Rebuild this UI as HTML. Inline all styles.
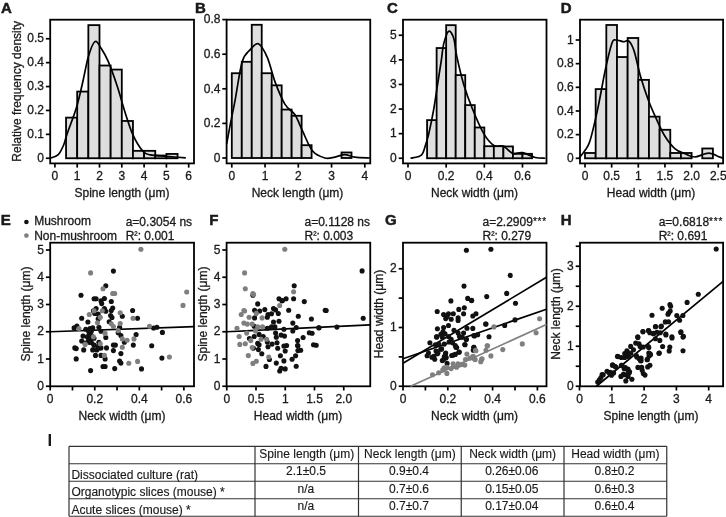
<!DOCTYPE html>
<html><head><meta charset="utf-8"><style>
html,body{margin:0;padding:0;background:#fff;}
svg{display:block;font-family:"Liberation Sans",sans-serif;will-change:transform;}
text{stroke:#1a1a1a;stroke-width:0.3px;}
text.tb{stroke-width:0.15px;}
text.nb{stroke-width:0px !important;}
</style></head><body>
<svg width="726" height="517" viewBox="0 0 726 517">
<rect width="726" height="517" fill="#fff"/>
<rect x="66.05" y="117.62" width="11.15" height="40.63" fill="#dedede" stroke="#000" stroke-width="1.8"/>
<rect x="77.2" y="91.57" width="11.15" height="66.68" fill="#dedede" stroke="#000" stroke-width="1.8"/>
<rect x="88.35" y="25.13" width="11.15" height="133.12" fill="#dedede" stroke="#000" stroke-width="1.8"/>
<rect x="99.5" y="65.52" width="11.15" height="92.73" fill="#dedede" stroke="#000" stroke-width="1.8"/>
<rect x="110.65" y="69.58" width="11.15" height="88.67" fill="#dedede" stroke="#000" stroke-width="1.8"/>
<rect x="121.8" y="120.97" width="11.15" height="37.28" fill="#dedede" stroke="#000" stroke-width="1.8"/>
<rect x="132.95" y="150.84" width="11.15" height="7.41" fill="#dedede" stroke="#000" stroke-width="1.8"/>
<rect x="144.1" y="150.84" width="11.15" height="7.41" fill="#dedede" stroke="#000" stroke-width="1.8"/>
<rect x="155.25" y="155.5" width="11.15" height="2.75" fill="#dedede" stroke="#000" stroke-width="1.8"/>
<rect x="166.4" y="153.95" width="11.15" height="4.3" fill="#dedede" stroke="#000" stroke-width="1.8"/>
<path d="M49.99,158.25 C51.37,157.65 55.98,156.86 58.24,154.66 C60.51,152.47 62.15,148.49 63.6,145.1 C65.05,141.72 64.82,140.52 66.94,134.35 C69.06,128.18 73.71,116.62 76.31,108.06 C78.91,99.5 80.54,91.53 82.55,82.97 C84.56,74.4 86.29,63.57 88.35,56.67 C90.41,49.78 92.76,43.01 94.88,41.62 C97.01,40.22 98.89,45 101.11,48.31 C103.32,51.62 105.49,55.08 108.2,61.45 C110.9,67.83 114.63,78.38 117.34,86.55 C120.05,94.72 121.91,102.48 124.48,110.45 C127.04,118.42 129.68,127.58 132.73,134.35 C135.77,141.12 139.83,147.65 142.76,151.08 C145.7,154.51 146.4,154.03 150.34,154.9 C154.28,155.78 160.49,155.84 166.4,156.34 C172.31,156.84 182.57,157.63 185.8,157.89" fill="none" stroke="#000" stroke-width="1.7"/>
<rect x="50.2" y="19.7" width="143.8" height="143.7" fill="none" stroke="#000" stroke-width="1.8"/>
<line x1="45.9" y1="158.25" x2="50.2" y2="158.25" stroke="#000" stroke-width="1.7"/>
<text x="44" y="161.95" font-size="12" text-anchor="end" fill="#1a1a1a">0</text>
<line x1="45.9" y1="134.35" x2="50.2" y2="134.35" stroke="#000" stroke-width="1.7"/>
<text x="44" y="138.05" font-size="12" text-anchor="end" fill="#1a1a1a">0.1</text>
<line x1="45.9" y1="110.45" x2="50.2" y2="110.45" stroke="#000" stroke-width="1.7"/>
<text x="44" y="114.15" font-size="12" text-anchor="end" fill="#1a1a1a">0.2</text>
<line x1="45.9" y1="86.55" x2="50.2" y2="86.55" stroke="#000" stroke-width="1.7"/>
<text x="44" y="90.25" font-size="12" text-anchor="end" fill="#1a1a1a">0.3</text>
<line x1="45.9" y1="62.65" x2="50.2" y2="62.65" stroke="#000" stroke-width="1.7"/>
<text x="44" y="66.35" font-size="12" text-anchor="end" fill="#1a1a1a">0.4</text>
<line x1="45.9" y1="38.75" x2="50.2" y2="38.75" stroke="#000" stroke-width="1.7"/>
<text x="44" y="42.45" font-size="12" text-anchor="end" fill="#1a1a1a">0.5</text>
<line x1="54.9" y1="163.4" x2="54.9" y2="167.6" stroke="#000" stroke-width="1.7"/>
<text x="54.9" y="179.6" font-size="12" text-anchor="middle" fill="#1a1a1a">0</text>
<line x1="77.2" y1="163.4" x2="77.2" y2="167.6" stroke="#000" stroke-width="1.7"/>
<text x="77.2" y="179.6" font-size="12" text-anchor="middle" fill="#1a1a1a">1</text>
<line x1="99.5" y1="163.4" x2="99.5" y2="167.6" stroke="#000" stroke-width="1.7"/>
<text x="99.5" y="179.6" font-size="12" text-anchor="middle" fill="#1a1a1a">2</text>
<line x1="121.8" y1="163.4" x2="121.8" y2="167.6" stroke="#000" stroke-width="1.7"/>
<text x="121.8" y="179.6" font-size="12" text-anchor="middle" fill="#1a1a1a">3</text>
<line x1="144.1" y1="163.4" x2="144.1" y2="167.6" stroke="#000" stroke-width="1.7"/>
<text x="144.1" y="179.6" font-size="12" text-anchor="middle" fill="#1a1a1a">4</text>
<line x1="166.4" y1="163.4" x2="166.4" y2="167.6" stroke="#000" stroke-width="1.7"/>
<text x="166.4" y="179.6" font-size="12" text-anchor="middle" fill="#1a1a1a">5</text>
<line x1="188.7" y1="163.4" x2="188.7" y2="167.6" stroke="#000" stroke-width="1.7"/>
<text x="188.7" y="179.6" font-size="12" text-anchor="middle" fill="#1a1a1a">6</text>
<text x="122" y="196.7" font-size="12" text-anchor="middle" fill="#1a1a1a">Spine length (μm)</text>
<text x="1" y="13.2" font-size="15" text-anchor="start" font-weight="bold" style="stroke-width:0.5px" fill="#1a1a1a">A</text>
<text x="21" y="91.3" font-size="12" text-anchor="middle" fill="#1a1a1a" transform="rotate(-90 21 91.3)">Relative frequency density</text>
<rect x="231.8" y="73.23" width="9.97" height="84.77" fill="#dedede" stroke="#000" stroke-width="1.8"/>
<rect x="241.78" y="61.81" width="9.97" height="96.19" fill="#dedede" stroke="#000" stroke-width="1.8"/>
<rect x="251.75" y="24.79" width="9.98" height="133.21" fill="#dedede" stroke="#000" stroke-width="1.8"/>
<rect x="261.73" y="73.23" width="9.97" height="84.77" fill="#dedede" stroke="#000" stroke-width="1.8"/>
<rect x="271.7" y="85.34" width="9.98" height="72.66" fill="#dedede" stroke="#000" stroke-width="1.8"/>
<rect x="281.68" y="109.56" width="9.97" height="48.44" fill="#dedede" stroke="#000" stroke-width="1.8"/>
<rect x="291.65" y="115.79" width="9.98" height="42.21" fill="#dedede" stroke="#000" stroke-width="1.8"/>
<rect x="301.62" y="145.2" width="9.98" height="12.8" fill="#dedede" stroke="#000" stroke-width="1.8"/>
<rect x="341.52" y="152.46" width="9.98" height="5.54" fill="#dedede" stroke="#000" stroke-width="1.8"/>
<path d="M226.61,144.16 C227.2,140.99 228.72,132.48 230.14,125.13 C231.56,117.78 233.13,110.57 235.12,100.04 C237.12,89.52 239.61,70.35 242.11,61.98 C244.6,53.62 247.37,52.9 250.09,49.88 C252.8,46.85 255.52,42.52 258.4,43.82 C261.28,45.12 264.61,51.32 267.38,57.66 C270.15,64 272.09,74.09 275.03,81.88 C277.96,89.66 281.68,98.89 285,104.37 C288.32,109.85 292.04,110.28 294.98,114.75 C297.91,119.22 299.69,125.13 302.62,131.19 C305.56,137.24 308.88,146.61 312.6,151.08 C316.31,155.55 321.19,156.99 324.9,158 C328.61,159.01 331.55,157.71 334.88,157.13 C338.2,156.56 341.53,154.54 344.85,154.54 C348.18,154.54 350.67,156.56 354.83,157.13 C358.98,157.71 367.29,157.86 369.79,158" fill="none" stroke="#000" stroke-width="1.7"/>
<rect x="226.6" y="19.7" width="143.65" height="143.7" fill="none" stroke="#000" stroke-width="1.8"/>
<line x1="222.3" y1="158" x2="226.6" y2="158" stroke="#000" stroke-width="1.7"/>
<text x="220.4" y="161.7" font-size="12" text-anchor="end" fill="#1a1a1a">0</text>
<line x1="222.3" y1="123.4" x2="226.6" y2="123.4" stroke="#000" stroke-width="1.7"/>
<text x="220.4" y="127.1" font-size="12" text-anchor="end" fill="#1a1a1a">0.2</text>
<line x1="222.3" y1="88.8" x2="226.6" y2="88.8" stroke="#000" stroke-width="1.7"/>
<text x="220.4" y="92.5" font-size="12" text-anchor="end" fill="#1a1a1a">0.4</text>
<line x1="222.3" y1="54.2" x2="226.6" y2="54.2" stroke="#000" stroke-width="1.7"/>
<text x="220.4" y="57.9" font-size="12" text-anchor="end" fill="#1a1a1a">0.6</text>
<line x1="222.3" y1="19.6" x2="226.6" y2="19.6" stroke="#000" stroke-width="1.7"/>
<text x="220.4" y="23.3" font-size="12" text-anchor="end" fill="#1a1a1a">0.8</text>
<line x1="231.8" y1="163.4" x2="231.8" y2="167.6" stroke="#000" stroke-width="1.7"/>
<text x="231.8" y="179.6" font-size="12" text-anchor="middle" fill="#1a1a1a">0</text>
<line x1="265.05" y1="163.4" x2="265.05" y2="167.6" stroke="#000" stroke-width="1.7"/>
<text x="265.05" y="179.6" font-size="12" text-anchor="middle" fill="#1a1a1a">1</text>
<line x1="298.3" y1="163.4" x2="298.3" y2="167.6" stroke="#000" stroke-width="1.7"/>
<text x="298.3" y="179.6" font-size="12" text-anchor="middle" fill="#1a1a1a">2</text>
<line x1="331.55" y1="163.4" x2="331.55" y2="167.6" stroke="#000" stroke-width="1.7"/>
<text x="331.55" y="179.6" font-size="12" text-anchor="middle" fill="#1a1a1a">3</text>
<line x1="364.8" y1="163.4" x2="364.8" y2="167.6" stroke="#000" stroke-width="1.7"/>
<text x="364.8" y="179.6" font-size="12" text-anchor="middle" fill="#1a1a1a">4</text>
<text x="297.5" y="196.7" font-size="12" text-anchor="middle" fill="#1a1a1a">Neck length (μm)</text>
<text x="195" y="13.2" font-size="15" text-anchor="start" font-weight="bold" style="stroke-width:0.5px" fill="#1a1a1a">B</text>
<rect x="427.08" y="120.12" width="9.54" height="38.13" fill="#dedede" stroke="#000" stroke-width="1.8"/>
<rect x="436.62" y="48.04" width="9.54" height="110.21" fill="#dedede" stroke="#000" stroke-width="1.8"/>
<rect x="446.16" y="25.16" width="9.54" height="133.09" fill="#dedede" stroke="#000" stroke-width="1.8"/>
<rect x="455.7" y="75.1" width="9.54" height="83.15" fill="#dedede" stroke="#000" stroke-width="1.8"/>
<rect x="465.24" y="105.11" width="9.54" height="53.14" fill="#dedede" stroke="#000" stroke-width="1.8"/>
<rect x="474.78" y="127.5" width="9.54" height="30.75" fill="#dedede" stroke="#000" stroke-width="1.8"/>
<rect x="484.32" y="146.2" width="9.54" height="12.05" fill="#dedede" stroke="#000" stroke-width="1.8"/>
<rect x="493.86" y="146.2" width="9.54" height="12.05" fill="#dedede" stroke="#000" stroke-width="1.8"/>
<rect x="503.4" y="146.44" width="9.54" height="11.81" fill="#dedede" stroke="#000" stroke-width="1.8"/>
<rect x="512.94" y="153.82" width="9.54" height="4.43" fill="#dedede" stroke="#000" stroke-width="1.8"/>
<rect x="522.48" y="153.82" width="9.54" height="4.43" fill="#dedede" stroke="#000" stroke-width="1.8"/>
<path d="M410.48,158.25 C412.29,157.72 418.84,157.27 421.36,155.05 C423.87,152.84 424.31,148.53 425.55,144.97 C426.79,141.4 427.43,139.64 428.8,133.65 C430.16,127.66 432.3,117.25 433.76,109.05 C435.22,100.85 436.3,92.65 437.57,84.45 C438.85,76.25 440.37,66.61 441.39,59.85 C442.41,53.08 442.45,48.62 443.68,43.86 C444.91,39.1 447.07,32.22 448.75,31.31 C450.44,30.41 452.46,34.31 453.79,38.45 C455.12,42.59 455.1,48.49 456.75,56.16 C458.4,63.83 461.09,75.63 463.71,84.45 C466.34,93.26 469.15,100.85 472.49,109.05 C475.83,117.25 480.19,127.58 483.75,133.65 C487.31,139.72 490.58,143.37 493.86,145.46 C497.14,147.55 500.28,144.88 503.4,146.2 C506.52,147.51 509.38,152.26 512.56,153.33 C515.74,154.4 518.73,151.9 522.48,152.59 C526.23,153.29 531.26,156.57 535.07,157.51 C538.89,158.45 543.66,158.13 545.38,158.25" fill="none" stroke="#000" stroke-width="1.7"/>
<rect x="403" y="19.7" width="143.5" height="143.7" fill="none" stroke="#000" stroke-width="1.8"/>
<line x1="398.7" y1="158.25" x2="403" y2="158.25" stroke="#000" stroke-width="1.7"/>
<text x="396.8" y="161.95" font-size="12" text-anchor="end" fill="#1a1a1a">0</text>
<line x1="398.7" y1="133.65" x2="403" y2="133.65" stroke="#000" stroke-width="1.7"/>
<text x="396.8" y="137.35" font-size="12" text-anchor="end" fill="#1a1a1a">1</text>
<line x1="398.7" y1="109.05" x2="403" y2="109.05" stroke="#000" stroke-width="1.7"/>
<text x="396.8" y="112.75" font-size="12" text-anchor="end" fill="#1a1a1a">2</text>
<line x1="398.7" y1="84.45" x2="403" y2="84.45" stroke="#000" stroke-width="1.7"/>
<text x="396.8" y="88.15" font-size="12" text-anchor="end" fill="#1a1a1a">3</text>
<line x1="398.7" y1="59.85" x2="403" y2="59.85" stroke="#000" stroke-width="1.7"/>
<text x="396.8" y="63.55" font-size="12" text-anchor="end" fill="#1a1a1a">4</text>
<line x1="398.7" y1="35.25" x2="403" y2="35.25" stroke="#000" stroke-width="1.7"/>
<text x="396.8" y="38.95" font-size="12" text-anchor="end" fill="#1a1a1a">5</text>
<line x1="408" y1="163.4" x2="408" y2="167.6" stroke="#000" stroke-width="1.7"/>
<text x="408" y="179.6" font-size="12" text-anchor="middle" fill="#1a1a1a">0</text>
<line x1="446.16" y1="163.4" x2="446.16" y2="167.6" stroke="#000" stroke-width="1.7"/>
<text x="446.16" y="179.6" font-size="12" text-anchor="middle" fill="#1a1a1a">0.2</text>
<line x1="484.32" y1="163.4" x2="484.32" y2="167.6" stroke="#000" stroke-width="1.7"/>
<text x="484.32" y="179.6" font-size="12" text-anchor="middle" fill="#1a1a1a">0.4</text>
<line x1="522.48" y1="163.4" x2="522.48" y2="167.6" stroke="#000" stroke-width="1.7"/>
<text x="522.48" y="179.6" font-size="12" text-anchor="middle" fill="#1a1a1a">0.6</text>
<text x="474.5" y="196.7" font-size="12" text-anchor="middle" fill="#1a1a1a">Neck width (μm)</text>
<text x="387" y="13.2" font-size="15" text-anchor="start" font-weight="bold" style="stroke-width:0.5px" fill="#1a1a1a">C</text>
<rect x="585" y="152.98" width="10.66" height="5.32" fill="#dedede" stroke="#000" stroke-width="1.8"/>
<rect x="595.66" y="89.09" width="10.66" height="69.21" fill="#dedede" stroke="#000" stroke-width="1.8"/>
<rect x="606.32" y="24.98" width="10.66" height="133.32" fill="#dedede" stroke="#000" stroke-width="1.8"/>
<rect x="616.98" y="57.04" width="10.66" height="101.26" fill="#dedede" stroke="#000" stroke-width="1.8"/>
<rect x="627.64" y="37.99" width="10.66" height="120.31" fill="#dedede" stroke="#000" stroke-width="1.8"/>
<rect x="638.3" y="79.87" width="10.66" height="78.43" fill="#dedede" stroke="#000" stroke-width="1.8"/>
<rect x="648.96" y="116.66" width="10.66" height="41.64" fill="#dedede" stroke="#000" stroke-width="1.8"/>
<rect x="659.62" y="129.79" width="10.66" height="28.51" fill="#dedede" stroke="#000" stroke-width="1.8"/>
<rect x="670.28" y="152.98" width="10.66" height="5.32" fill="#dedede" stroke="#000" stroke-width="1.8"/>
<rect x="680.94" y="152.98" width="10.66" height="5.32" fill="#dedede" stroke="#000" stroke-width="1.8"/>
<rect x="702.26" y="148.48" width="10.66" height="9.82" fill="#dedede" stroke="#000" stroke-width="1.8"/>
<path d="M579.3,157.95 C580.82,155.78 586.01,150.16 588.41,144.93 C590.81,139.71 591.94,133.58 593.69,126.6 C595.44,119.62 596.96,112.6 598.91,103.05 C600.87,93.51 603.25,79.32 605.41,69.34 C607.58,59.36 610.17,48.08 611.92,43.19 C613.67,38.3 613.95,40.24 615.91,40 C617.88,39.76 621.53,41.6 623.7,41.77 C625.86,41.95 627.19,39.55 628.92,41.06 C630.65,42.58 632.13,44.89 634.09,50.88 C636.05,56.88 638.3,68.77 640.7,77.03 C643.1,85.29 645.88,93.49 648.48,100.45 C651.08,107.41 653.57,112.81 656.32,118.79 C659.06,124.76 661.82,131.29 664.95,136.3 C668.08,141.3 671.7,145.92 675.08,148.84 C678.45,151.75 681.92,152.44 685.2,153.8 C688.49,155.17 690.89,157.1 694.8,157 C698.71,156.9 704.48,153.19 708.66,153.21 C712.83,153.23 717.36,156.27 719.85,157.12 C722.34,157.96 722.96,158.1 723.58,158.3" fill="none" stroke="#000" stroke-width="1.7"/>
<rect x="580" y="19.7" width="143.1" height="143.7" fill="none" stroke="#000" stroke-width="1.8"/>
<line x1="575.7" y1="158.3" x2="580" y2="158.3" stroke="#000" stroke-width="1.7"/>
<text x="573.8" y="162" font-size="12" text-anchor="end" fill="#1a1a1a">0</text>
<line x1="575.7" y1="134.64" x2="580" y2="134.64" stroke="#000" stroke-width="1.7"/>
<text x="573.8" y="138.34" font-size="12" text-anchor="end" fill="#1a1a1a">0.2</text>
<line x1="575.7" y1="110.98" x2="580" y2="110.98" stroke="#000" stroke-width="1.7"/>
<text x="573.8" y="114.68" font-size="12" text-anchor="end" fill="#1a1a1a">0.4</text>
<line x1="575.7" y1="87.32" x2="580" y2="87.32" stroke="#000" stroke-width="1.7"/>
<text x="573.8" y="91.02" font-size="12" text-anchor="end" fill="#1a1a1a">0.6</text>
<line x1="575.7" y1="63.66" x2="580" y2="63.66" stroke="#000" stroke-width="1.7"/>
<text x="573.8" y="67.36" font-size="12" text-anchor="end" fill="#1a1a1a">0.8</text>
<line x1="575.7" y1="40" x2="580" y2="40" stroke="#000" stroke-width="1.7"/>
<text x="573.8" y="43.7" font-size="12" text-anchor="end" fill="#1a1a1a">1</text>
<line x1="585" y1="163.4" x2="585" y2="167.6" stroke="#000" stroke-width="1.7"/>
<text x="585" y="179.6" font-size="12" text-anchor="middle" fill="#1a1a1a">0</text>
<line x1="611.65" y1="163.4" x2="611.65" y2="167.6" stroke="#000" stroke-width="1.7"/>
<text x="611.65" y="179.6" font-size="12" text-anchor="middle" fill="#1a1a1a">0.5</text>
<line x1="638.3" y1="163.4" x2="638.3" y2="167.6" stroke="#000" stroke-width="1.7"/>
<text x="638.3" y="179.6" font-size="12" text-anchor="middle" fill="#1a1a1a">1</text>
<line x1="664.95" y1="163.4" x2="664.95" y2="167.6" stroke="#000" stroke-width="1.7"/>
<text x="664.95" y="179.6" font-size="12" text-anchor="middle" fill="#1a1a1a">1.5</text>
<line x1="691.6" y1="163.4" x2="691.6" y2="167.6" stroke="#000" stroke-width="1.7"/>
<text x="691.6" y="179.6" font-size="12" text-anchor="middle" fill="#1a1a1a">2.0</text>
<line x1="718.25" y1="163.4" x2="718.25" y2="167.6" stroke="#000" stroke-width="1.7"/>
<text x="718.25" y="179.6" font-size="12" text-anchor="middle" fill="#1a1a1a">2.5</text>
<text x="651" y="196.7" font-size="12" text-anchor="middle" fill="#1a1a1a">Head width (μm)</text>
<text x="560.7" y="13.2" font-size="15" text-anchor="start" font-weight="bold" style="stroke-width:0.5px" fill="#1a1a1a">D</text>
<rect x="50.2" y="242.7" width="143.8" height="143.6" fill="none" stroke="#000" stroke-width="1.8"/>
<line x1="45.9" y1="386.25" x2="50.2" y2="386.25" stroke="#000" stroke-width="1.7"/>
<text x="44" y="389.95" font-size="12" text-anchor="end" fill="#1a1a1a">0</text>
<line x1="45.9" y1="359" x2="50.2" y2="359" stroke="#000" stroke-width="1.7"/>
<text x="44" y="362.7" font-size="12" text-anchor="end" fill="#1a1a1a">1</text>
<line x1="45.9" y1="331.75" x2="50.2" y2="331.75" stroke="#000" stroke-width="1.7"/>
<text x="44" y="335.45" font-size="12" text-anchor="end" fill="#1a1a1a">2</text>
<line x1="45.9" y1="304.5" x2="50.2" y2="304.5" stroke="#000" stroke-width="1.7"/>
<text x="44" y="308.2" font-size="12" text-anchor="end" fill="#1a1a1a">3</text>
<line x1="45.9" y1="277.25" x2="50.2" y2="277.25" stroke="#000" stroke-width="1.7"/>
<text x="44" y="280.95" font-size="12" text-anchor="end" fill="#1a1a1a">4</text>
<line x1="45.9" y1="250" x2="50.2" y2="250" stroke="#000" stroke-width="1.7"/>
<text x="44" y="253.7" font-size="12" text-anchor="end" fill="#1a1a1a">5</text>
<line x1="50.2" y1="386.3" x2="50.2" y2="390.5" stroke="#000" stroke-width="1.7"/>
<text x="50.2" y="403.4" font-size="12" text-anchor="middle" fill="#1a1a1a">0</text>
<line x1="72.48" y1="386.3" x2="72.48" y2="390.5" stroke="#000" stroke-width="1.7"/>
<line x1="94.76" y1="386.3" x2="94.76" y2="390.5" stroke="#000" stroke-width="1.7"/>
<text x="94.76" y="403.4" font-size="12" text-anchor="middle" fill="#1a1a1a">0.2</text>
<line x1="117.04" y1="386.3" x2="117.04" y2="390.5" stroke="#000" stroke-width="1.7"/>
<line x1="139.32" y1="386.3" x2="139.32" y2="390.5" stroke="#000" stroke-width="1.7"/>
<text x="139.32" y="403.4" font-size="12" text-anchor="middle" fill="#1a1a1a">0.4</text>
<line x1="161.6" y1="386.3" x2="161.6" y2="390.5" stroke="#000" stroke-width="1.7"/>
<line x1="183.88" y1="386.3" x2="183.88" y2="390.5" stroke="#000" stroke-width="1.7"/>
<text x="183.88" y="403.4" font-size="12" text-anchor="middle" fill="#1a1a1a">0.6</text>
<text x="122" y="420" font-size="12" text-anchor="middle" fill="#1a1a1a">Neck width (μm)</text>
<text x="30" y="314" font-size="12" text-anchor="middle" fill="#1a1a1a" transform="rotate(-90 30 314)">Spine length (μm)</text>
<text x="0.8" y="224.6" font-size="15" text-anchor="start" font-weight="bold" style="stroke-width:0.5px" fill="#1a1a1a">E</text>
<text x="125.7" y="225.5" font-size="12" text-anchor="start" fill="#1a1a1a">a=0.3054 ns</text>
<text x="125.7" y="239.6" font-size="12" text-anchor="start" fill="#1a1a1a">R<tspan font-size="10" dy="-1.3" style="stroke-width:0.25px">²</tspan><tspan dy="1.3">: 0.001</tspan></text>
<rect x="226.6" y="242.7" width="143.65" height="143.6" fill="none" stroke="#000" stroke-width="1.8"/>
<line x1="222.3" y1="386.25" x2="226.6" y2="386.25" stroke="#000" stroke-width="1.7"/>
<text x="220.4" y="389.95" font-size="12" text-anchor="end" fill="#1a1a1a">0</text>
<line x1="222.3" y1="359" x2="226.6" y2="359" stroke="#000" stroke-width="1.7"/>
<text x="220.4" y="362.7" font-size="12" text-anchor="end" fill="#1a1a1a">1</text>
<line x1="222.3" y1="331.75" x2="226.6" y2="331.75" stroke="#000" stroke-width="1.7"/>
<text x="220.4" y="335.45" font-size="12" text-anchor="end" fill="#1a1a1a">2</text>
<line x1="222.3" y1="304.5" x2="226.6" y2="304.5" stroke="#000" stroke-width="1.7"/>
<text x="220.4" y="308.2" font-size="12" text-anchor="end" fill="#1a1a1a">3</text>
<line x1="222.3" y1="277.25" x2="226.6" y2="277.25" stroke="#000" stroke-width="1.7"/>
<text x="220.4" y="280.95" font-size="12" text-anchor="end" fill="#1a1a1a">4</text>
<line x1="222.3" y1="250" x2="226.6" y2="250" stroke="#000" stroke-width="1.7"/>
<text x="220.4" y="253.7" font-size="12" text-anchor="end" fill="#1a1a1a">5</text>
<line x1="226.75" y1="386.3" x2="226.75" y2="390.5" stroke="#000" stroke-width="1.7"/>
<text x="226.75" y="403.4" font-size="12" text-anchor="middle" fill="#1a1a1a">0</text>
<line x1="256" y1="386.3" x2="256" y2="390.5" stroke="#000" stroke-width="1.7"/>
<text x="256" y="403.4" font-size="12" text-anchor="middle" fill="#1a1a1a">0.5</text>
<line x1="285.25" y1="386.3" x2="285.25" y2="390.5" stroke="#000" stroke-width="1.7"/>
<text x="285.25" y="403.4" font-size="12" text-anchor="middle" fill="#1a1a1a">1</text>
<line x1="314.5" y1="386.3" x2="314.5" y2="390.5" stroke="#000" stroke-width="1.7"/>
<text x="314.5" y="403.4" font-size="12" text-anchor="middle" fill="#1a1a1a">1.5</text>
<line x1="343.75" y1="386.3" x2="343.75" y2="390.5" stroke="#000" stroke-width="1.7"/>
<text x="343.75" y="403.4" font-size="12" text-anchor="middle" fill="#1a1a1a">2.0</text>
<text x="298" y="420" font-size="12" text-anchor="middle" fill="#1a1a1a">Head width (μm)</text>
<text x="206.5" y="314" font-size="12" text-anchor="middle" fill="#1a1a1a" transform="rotate(-90 206.5 314)">Spine length (μm)</text>
<text x="209.2" y="224.6" font-size="15" text-anchor="start" font-weight="bold" style="stroke-width:0.5px" fill="#1a1a1a">F</text>
<text x="304.5" y="225.5" font-size="12" text-anchor="start" fill="#1a1a1a">a=0.1128 ns</text>
<text x="304.5" y="239.6" font-size="12" text-anchor="start" fill="#1a1a1a">R<tspan font-size="10" dy="-1.3" style="stroke-width:0.25px">²</tspan><tspan dy="1.3">: 0.003</tspan></text>
<rect x="403" y="242.7" width="143.5" height="143.6" fill="none" stroke="#000" stroke-width="1.8"/>
<line x1="398.7" y1="386.25" x2="403" y2="386.25" stroke="#000" stroke-width="1.7"/>
<text x="396.8" y="389.95" font-size="12" text-anchor="end" fill="#1a1a1a">0</text>
<line x1="398.7" y1="356.88" x2="403" y2="356.88" stroke="#000" stroke-width="1.7"/>
<line x1="398.7" y1="327.5" x2="403" y2="327.5" stroke="#000" stroke-width="1.7"/>
<text x="396.8" y="331.2" font-size="12" text-anchor="end" fill="#1a1a1a">1</text>
<line x1="398.7" y1="298.12" x2="403" y2="298.12" stroke="#000" stroke-width="1.7"/>
<line x1="398.7" y1="268.75" x2="403" y2="268.75" stroke="#000" stroke-width="1.7"/>
<text x="396.8" y="272.45" font-size="12" text-anchor="end" fill="#1a1a1a">2</text>
<line x1="403" y1="386.3" x2="403" y2="390.5" stroke="#000" stroke-width="1.7"/>
<text x="403" y="403.4" font-size="12" text-anchor="middle" fill="#1a1a1a">0</text>
<line x1="425.4" y1="386.3" x2="425.4" y2="390.5" stroke="#000" stroke-width="1.7"/>
<line x1="447.8" y1="386.3" x2="447.8" y2="390.5" stroke="#000" stroke-width="1.7"/>
<text x="447.8" y="403.4" font-size="12" text-anchor="middle" fill="#1a1a1a">0.2</text>
<line x1="470.2" y1="386.3" x2="470.2" y2="390.5" stroke="#000" stroke-width="1.7"/>
<line x1="492.6" y1="386.3" x2="492.6" y2="390.5" stroke="#000" stroke-width="1.7"/>
<text x="492.6" y="403.4" font-size="12" text-anchor="middle" fill="#1a1a1a">0.4</text>
<line x1="515" y1="386.3" x2="515" y2="390.5" stroke="#000" stroke-width="1.7"/>
<line x1="537.4" y1="386.3" x2="537.4" y2="390.5" stroke="#000" stroke-width="1.7"/>
<text x="537.4" y="403.4" font-size="12" text-anchor="middle" fill="#1a1a1a">0.6</text>
<text x="474.5" y="420" font-size="12" text-anchor="middle" fill="#1a1a1a">Neck width (μm)</text>
<text x="383" y="314" font-size="12" text-anchor="middle" fill="#1a1a1a" transform="rotate(-90 383 314)">Head width (μm)</text>
<text x="385" y="224.6" font-size="15" text-anchor="start" font-weight="bold" style="stroke-width:0.5px" fill="#1a1a1a">G</text>
<text x="482.5" y="225.5" font-size="12" text-anchor="start" fill="#1a1a1a">a=2.2909<tspan font-size="10" letter-spacing="0.78" dy="-0.6" style="stroke-width:0.25px">***</tspan></text>
<text x="482.5" y="239.6" font-size="12" text-anchor="start" fill="#1a1a1a">R<tspan font-size="10" dy="-1.3" style="stroke-width:0.25px">²</tspan><tspan dy="1.3">: 0.279</tspan></text>
<rect x="580" y="242.7" width="143.1" height="143.6" fill="none" stroke="#000" stroke-width="1.8"/>
<line x1="575.7" y1="386.25" x2="580" y2="386.25" stroke="#000" stroke-width="1.7"/>
<text x="573.8" y="389.95" font-size="12" text-anchor="end" fill="#1a1a1a">0</text>
<line x1="575.7" y1="366.25" x2="580" y2="366.25" stroke="#000" stroke-width="1.7"/>
<line x1="575.7" y1="346.25" x2="580" y2="346.25" stroke="#000" stroke-width="1.7"/>
<text x="573.8" y="349.95" font-size="12" text-anchor="end" fill="#1a1a1a">1</text>
<line x1="575.7" y1="326.25" x2="580" y2="326.25" stroke="#000" stroke-width="1.7"/>
<line x1="575.7" y1="306.25" x2="580" y2="306.25" stroke="#000" stroke-width="1.7"/>
<text x="573.8" y="309.95" font-size="12" text-anchor="end" fill="#1a1a1a">2</text>
<line x1="575.7" y1="286.25" x2="580" y2="286.25" stroke="#000" stroke-width="1.7"/>
<line x1="575.7" y1="266.25" x2="580" y2="266.25" stroke="#000" stroke-width="1.7"/>
<text x="573.8" y="269.95" font-size="12" text-anchor="end" fill="#1a1a1a">3</text>
<line x1="575.7" y1="246.25" x2="580" y2="246.25" stroke="#000" stroke-width="1.7"/>
<line x1="579.5" y1="386.3" x2="579.5" y2="390.5" stroke="#000" stroke-width="1.7"/>
<text x="579.5" y="403.4" font-size="12" text-anchor="middle" fill="#1a1a1a">0</text>
<line x1="611.8" y1="386.3" x2="611.8" y2="390.5" stroke="#000" stroke-width="1.7"/>
<text x="611.8" y="403.4" font-size="12" text-anchor="middle" fill="#1a1a1a">1</text>
<line x1="644.1" y1="386.3" x2="644.1" y2="390.5" stroke="#000" stroke-width="1.7"/>
<text x="644.1" y="403.4" font-size="12" text-anchor="middle" fill="#1a1a1a">2</text>
<line x1="676.4" y1="386.3" x2="676.4" y2="390.5" stroke="#000" stroke-width="1.7"/>
<text x="676.4" y="403.4" font-size="12" text-anchor="middle" fill="#1a1a1a">3</text>
<line x1="708.7" y1="386.3" x2="708.7" y2="390.5" stroke="#000" stroke-width="1.7"/>
<text x="708.7" y="403.4" font-size="12" text-anchor="middle" fill="#1a1a1a">4</text>
<text x="651" y="420" font-size="12" text-anchor="middle" fill="#1a1a1a">Spine length (μm)</text>
<text x="560" y="314" font-size="12" text-anchor="middle" fill="#1a1a1a" transform="rotate(-90 560 314)">Neck length (μm)</text>
<text x="560.7" y="224.6" font-size="15" text-anchor="start" font-weight="bold" style="stroke-width:0.5px" fill="#1a1a1a">H</text>
<text x="658.7" y="225.5" font-size="12" text-anchor="start" fill="#1a1a1a">a=0.6818<tspan font-size="10" letter-spacing="0.78" dy="-0.6" style="stroke-width:0.25px">***</tspan></text>
<text x="658.7" y="239.6" font-size="12" text-anchor="start" fill="#1a1a1a">R<tspan font-size="10" dy="-1.3" style="stroke-width:0.25px">²</tspan><tspan dy="1.3">: 0.691</tspan></text>
<circle cx="26.4" cy="222" r="2.3" fill="#111"/>
<circle cx="26.4" cy="235.6" r="2.3" fill="#7f7f7f"/>
<text x="34.2" y="225.4" font-size="12" text-anchor="start" fill="#1a1a1a">Mushroom</text>
<text x="34.2" y="239.5" font-size="12" text-anchor="start" fill="#1a1a1a">Non-mushroom</text>
<text x="47.4" y="445.9" font-size="16.5" text-anchor="start" font-weight="bold" style="stroke-width:0.5px" fill="#1a1a1a" class="nb">I</text>
<line x1="69" y1="446.3" x2="69" y2="516.25" stroke="#333" stroke-width="1.2"/>
<line x1="255" y1="446.3" x2="255" y2="516.25" stroke="#333" stroke-width="1.2"/>
<line x1="358.5" y1="446.3" x2="358.5" y2="516.25" stroke="#333" stroke-width="1.2"/>
<line x1="461.25" y1="446.3" x2="461.25" y2="516.25" stroke="#333" stroke-width="1.2"/>
<line x1="564" y1="446.3" x2="564" y2="516.25" stroke="#333" stroke-width="1.2"/>
<line x1="666.75" y1="446.3" x2="666.75" y2="516.25" stroke="#333" stroke-width="1.2"/>
<line x1="69" y1="446.3" x2="666.75" y2="446.3" stroke="#333" stroke-width="1.2"/>
<line x1="69" y1="463.75" x2="666.75" y2="463.75" stroke="#333" stroke-width="1.2"/>
<line x1="69" y1="481.25" x2="666.75" y2="481.25" stroke="#333" stroke-width="1.2"/>
<line x1="69" y1="498.75" x2="666.75" y2="498.75" stroke="#333" stroke-width="1.2"/>
<line x1="69" y1="516.25" x2="666.75" y2="516.25" stroke="#333" stroke-width="1.2"/>
<text x="306.75" y="458" font-size="12" text-anchor="middle" fill="#1a1a1a" class="tb">Spine length (μm)</text>
<text x="409.88" y="458" font-size="12" text-anchor="middle" fill="#1a1a1a" class="tb">Neck length (μm)</text>
<text x="512.62" y="458" font-size="12" text-anchor="middle" fill="#1a1a1a" class="tb">Neck width (μm)</text>
<text x="615.38" y="458" font-size="12" text-anchor="middle" fill="#1a1a1a" class="tb">Head width (μm)</text>
<text x="71.4" y="478.95" font-size="12" text-anchor="start" fill="#1a1a1a" class="tb">Dissociated culture (rat)</text>
<text x="305.95" y="475.35" font-size="12" text-anchor="middle" fill="#1a1a1a" class="tb">2.1±0.5</text>
<text x="409.07" y="475.35" font-size="12" text-anchor="middle" fill="#1a1a1a" class="tb">0.9±0.4</text>
<text x="511.82" y="475.35" font-size="12" text-anchor="middle" fill="#1a1a1a" class="tb">0.26±0.06</text>
<text x="614.58" y="475.35" font-size="12" text-anchor="middle" fill="#1a1a1a" class="tb">0.8±0.2</text>
<text x="71.4" y="496.45" font-size="12" text-anchor="start" fill="#1a1a1a" class="tb">Organotypic slices (mouse) *</text>
<text x="305.95" y="492.85" font-size="12" text-anchor="middle" fill="#1a1a1a" class="tb">n/a</text>
<text x="409.07" y="492.85" font-size="12" text-anchor="middle" fill="#1a1a1a" class="tb">0.7±0.6</text>
<text x="511.82" y="492.85" font-size="12" text-anchor="middle" fill="#1a1a1a" class="tb">0.15±0.05</text>
<text x="614.58" y="492.85" font-size="12" text-anchor="middle" fill="#1a1a1a" class="tb">0.6±0.3</text>
<text x="71.4" y="513.95" font-size="12" text-anchor="start" fill="#1a1a1a" class="tb">Acute slices (mouse) *</text>
<text x="305.95" y="510.35" font-size="12" text-anchor="middle" fill="#1a1a1a" class="tb">n/a</text>
<text x="409.07" y="510.35" font-size="12" text-anchor="middle" fill="#1a1a1a" class="tb">0.7±0.7</text>
<text x="511.82" y="510.35" font-size="12" text-anchor="middle" fill="#1a1a1a" class="tb">0.17±0.04</text>
<text x="614.58" y="510.35" font-size="12" text-anchor="middle" fill="#1a1a1a" class="tb">0.6±0.4</text>
<line x1="50.2" y1="331.75" x2="194" y2="326.6" stroke="#000" stroke-width="1.7"/>
<line x1="226.6" y1="331.75" x2="370.25" y2="324.8" stroke="#000" stroke-width="1.7"/>
<line x1="403" y1="363.3" x2="546.5" y2="277.3" stroke="#000" stroke-width="1.7"/>
<line x1="403" y1="358.8" x2="546.5" y2="309.2" stroke="#000" stroke-width="1.7"/>
<line x1="410.5" y1="386.25" x2="546.5" y2="324.6" stroke="#808080" stroke-width="1.7"/>
<line x1="596.4" y1="386.25" x2="723.1" y2="281.3" stroke="#000" stroke-width="1.7"/>
<circle cx="113.4" cy="271.1" r="2.55" fill="#111"/>
<circle cx="105.8" cy="285.7" r="2.55" fill="#111"/>
<circle cx="81" cy="295.3" r="2.55" fill="#111"/>
<circle cx="94.1" cy="298.8" r="2.55" fill="#111"/>
<circle cx="96.1" cy="298.8" r="2.55" fill="#111"/>
<circle cx="104.4" cy="298.5" r="2.55" fill="#111"/>
<circle cx="101" cy="300.9" r="2.55" fill="#111"/>
<circle cx="101.7" cy="303.6" r="2.55" fill="#111"/>
<circle cx="111.3" cy="301.5" r="2.55" fill="#111"/>
<circle cx="132.6" cy="310.5" r="2.55" fill="#111"/>
<circle cx="112.7" cy="308" r="2.55" fill="#111"/>
<circle cx="111.3" cy="310.5" r="2.55" fill="#111"/>
<circle cx="96.1" cy="308.6" r="2.55" fill="#111"/>
<circle cx="93.4" cy="310.7" r="2.55" fill="#111"/>
<circle cx="104.4" cy="308.6" r="2.55" fill="#111"/>
<circle cx="105.8" cy="311.3" r="2.55" fill="#111"/>
<circle cx="94.8" cy="313.4" r="2.55" fill="#111"/>
<circle cx="98.2" cy="314.1" r="2.55" fill="#111"/>
<circle cx="122.3" cy="316.2" r="2.55" fill="#111"/>
<circle cx="137.5" cy="318.2" r="2.55" fill="#111"/>
<circle cx="110.6" cy="315.5" r="2.55" fill="#111"/>
<circle cx="112" cy="317.5" r="2.55" fill="#111"/>
<circle cx="81.7" cy="318.2" r="2.55" fill="#111"/>
<circle cx="87.9" cy="322" r="2.55" fill="#111"/>
<circle cx="98.2" cy="318.9" r="2.55" fill="#111"/>
<circle cx="109.2" cy="321.7" r="2.55" fill="#111"/>
<circle cx="74.1" cy="327.9" r="2.55" fill="#111"/>
<circle cx="76.9" cy="326.1" r="2.55" fill="#111"/>
<circle cx="85.8" cy="329.3" r="2.55" fill="#111"/>
<circle cx="90" cy="328.6" r="2.55" fill="#111"/>
<circle cx="92.7" cy="327.9" r="2.55" fill="#111"/>
<circle cx="88.6" cy="331.3" r="2.55" fill="#111"/>
<circle cx="91.3" cy="331.3" r="2.55" fill="#111"/>
<circle cx="98.9" cy="327.2" r="2.55" fill="#111"/>
<circle cx="101" cy="331.3" r="2.55" fill="#111"/>
<circle cx="119.6" cy="327.2" r="2.55" fill="#111"/>
<circle cx="118.2" cy="332.7" r="2.55" fill="#111"/>
<circle cx="83" cy="336.1" r="2.55" fill="#111"/>
<circle cx="87.2" cy="336.8" r="2.55" fill="#111"/>
<circle cx="91.3" cy="335.5" r="2.55" fill="#111"/>
<circle cx="81.7" cy="341" r="2.55" fill="#111"/>
<circle cx="88.6" cy="340.3" r="2.55" fill="#111"/>
<circle cx="91.3" cy="342.3" r="2.55" fill="#111"/>
<circle cx="94" cy="338.2" r="2.55" fill="#111"/>
<circle cx="105.8" cy="337.5" r="2.55" fill="#111"/>
<circle cx="136.1" cy="334.5" r="2.55" fill="#111"/>
<circle cx="120.9" cy="335.5" r="2.55" fill="#111"/>
<circle cx="124.4" cy="342.3" r="2.55" fill="#111"/>
<circle cx="85.1" cy="343" r="2.55" fill="#111"/>
<circle cx="94" cy="345.1" r="2.55" fill="#111"/>
<circle cx="98.9" cy="342.3" r="2.55" fill="#111"/>
<circle cx="74.8" cy="347.9" r="2.55" fill="#111"/>
<circle cx="76.2" cy="348.6" r="2.55" fill="#111"/>
<circle cx="83.7" cy="349.9" r="2.55" fill="#111"/>
<circle cx="92.7" cy="349.9" r="2.55" fill="#111"/>
<circle cx="96.8" cy="349.9" r="2.55" fill="#111"/>
<circle cx="99.6" cy="347.9" r="2.55" fill="#111"/>
<circle cx="106.5" cy="347.9" r="2.55" fill="#111"/>
<circle cx="113.4" cy="345.1" r="2.55" fill="#111"/>
<circle cx="115.4" cy="345.1" r="2.55" fill="#111"/>
<circle cx="113.4" cy="350.6" r="2.55" fill="#111"/>
<circle cx="133.3" cy="345.1" r="2.55" fill="#111"/>
<circle cx="120.9" cy="353.6" r="2.55" fill="#111"/>
<circle cx="95.5" cy="355.4" r="2.55" fill="#111"/>
<circle cx="101" cy="355.4" r="2.55" fill="#111"/>
<circle cx="76.2" cy="358.9" r="2.55" fill="#111"/>
<circle cx="119.6" cy="361" r="2.55" fill="#111"/>
<circle cx="120.9" cy="363.1" r="2.55" fill="#111"/>
<circle cx="105.1" cy="358.9" r="2.55" fill="#111"/>
<circle cx="103" cy="366.5" r="2.55" fill="#111"/>
<circle cx="105.1" cy="366.5" r="2.55" fill="#111"/>
<circle cx="114.7" cy="368.6" r="2.55" fill="#111"/>
<circle cx="90.6" cy="370.6" r="2.55" fill="#111"/>
<circle cx="141.5" cy="368.9" r="2.55" fill="#111"/>
<circle cx="161.9" cy="358.1" r="2.55" fill="#111"/>
<circle cx="151.7" cy="345.7" r="2.55" fill="#111"/>
<circle cx="153.6" cy="328" r="2.55" fill="#111"/>
<circle cx="156.9" cy="327.2" r="2.55" fill="#111"/>
<circle cx="162.4" cy="332.4" r="2.55" fill="#111"/>
<circle cx="89.3" cy="334.1" r="2.55" fill="#111"/>
<circle cx="91.3" cy="338.3" r="2.55" fill="#111"/>
<circle cx="90" cy="342.4" r="2.55" fill="#111"/>
<circle cx="94.1" cy="345.2" r="2.55" fill="#111"/>
<circle cx="98.2" cy="346.5" r="2.55" fill="#111"/>
<circle cx="101" cy="347.9" r="2.55" fill="#111"/>
<circle cx="294.2" cy="285.8" r="2.55" fill="#111"/>
<circle cx="286.1" cy="298.8" r="2.55" fill="#111"/>
<circle cx="293.6" cy="298.8" r="2.55" fill="#111"/>
<circle cx="281.9" cy="300.7" r="2.55" fill="#111"/>
<circle cx="279" cy="298.8" r="2.55" fill="#111"/>
<circle cx="282.5" cy="300.6" r="2.55" fill="#111"/>
<circle cx="304.3" cy="301.6" r="2.55" fill="#111"/>
<circle cx="252.9" cy="295.3" r="2.55" fill="#111"/>
<circle cx="257.7" cy="303.9" r="2.55" fill="#111"/>
<circle cx="254.6" cy="310.3" r="2.55" fill="#111"/>
<circle cx="259.7" cy="311" r="2.55" fill="#111"/>
<circle cx="264.8" cy="309.6" r="2.55" fill="#111"/>
<circle cx="273.5" cy="308.5" r="2.55" fill="#111"/>
<circle cx="275.6" cy="309.9" r="2.55" fill="#111"/>
<circle cx="268" cy="314.5" r="2.55" fill="#111"/>
<circle cx="271.5" cy="313.8" r="2.55" fill="#111"/>
<circle cx="267.3" cy="317.2" r="2.55" fill="#111"/>
<circle cx="278.3" cy="313.5" r="2.55" fill="#111"/>
<circle cx="288.7" cy="310.3" r="2.55" fill="#111"/>
<circle cx="325.2" cy="310.3" r="2.55" fill="#111"/>
<circle cx="298.3" cy="316.3" r="2.55" fill="#111"/>
<circle cx="311.4" cy="319" r="2.55" fill="#111"/>
<circle cx="254.6" cy="317.9" r="2.55" fill="#111"/>
<circle cx="273.5" cy="322" r="2.55" fill="#111"/>
<circle cx="279" cy="321.3" r="2.55" fill="#111"/>
<circle cx="292.8" cy="323.1" r="2.55" fill="#111"/>
<circle cx="254.2" cy="326.2" r="2.55" fill="#111"/>
<circle cx="267.3" cy="328.2" r="2.55" fill="#111"/>
<circle cx="271.5" cy="326.9" r="2.55" fill="#111"/>
<circle cx="274.9" cy="326.9" r="2.55" fill="#111"/>
<circle cx="283.9" cy="329.2" r="2.55" fill="#111"/>
<circle cx="292.8" cy="331" r="2.55" fill="#111"/>
<circle cx="296.2" cy="327.5" r="2.55" fill="#111"/>
<circle cx="319" cy="327.8" r="2.55" fill="#111"/>
<circle cx="309.3" cy="332.8" r="2.55" fill="#111"/>
<circle cx="312.1" cy="333.3" r="2.55" fill="#111"/>
<circle cx="259.1" cy="334.4" r="2.55" fill="#111"/>
<circle cx="263.2" cy="336.5" r="2.55" fill="#111"/>
<circle cx="254.2" cy="336.5" r="2.55" fill="#111"/>
<circle cx="275.6" cy="333.1" r="2.55" fill="#111"/>
<circle cx="276.3" cy="337.2" r="2.55" fill="#111"/>
<circle cx="281.1" cy="335.1" r="2.55" fill="#111"/>
<circle cx="284.5" cy="336.1" r="2.55" fill="#111"/>
<circle cx="303.1" cy="337.5" r="2.55" fill="#111"/>
<circle cx="249.4" cy="338.6" r="2.55" fill="#111"/>
<circle cx="257.7" cy="343.4" r="2.55" fill="#111"/>
<circle cx="259.1" cy="344.8" r="2.55" fill="#111"/>
<circle cx="267.3" cy="342" r="2.55" fill="#111"/>
<circle cx="268" cy="346.8" r="2.55" fill="#111"/>
<circle cx="272.1" cy="344.1" r="2.55" fill="#111"/>
<circle cx="277" cy="342.7" r="2.55" fill="#111"/>
<circle cx="297.6" cy="340.6" r="2.55" fill="#111"/>
<circle cx="297.6" cy="345.5" r="2.55" fill="#111"/>
<circle cx="313.5" cy="344.8" r="2.55" fill="#111"/>
<circle cx="316.2" cy="345.2" r="2.55" fill="#111"/>
<circle cx="283.9" cy="346.1" r="2.55" fill="#111"/>
<circle cx="286.6" cy="345.5" r="2.55" fill="#111"/>
<circle cx="285.2" cy="351" r="2.55" fill="#111"/>
<circle cx="277.7" cy="348.2" r="2.55" fill="#111"/>
<circle cx="297.9" cy="350.6" r="2.55" fill="#111"/>
<circle cx="300.7" cy="350.3" r="2.55" fill="#111"/>
<circle cx="253.5" cy="348.2" r="2.55" fill="#111"/>
<circle cx="258.4" cy="349.6" r="2.55" fill="#111"/>
<circle cx="261.8" cy="353.7" r="2.55" fill="#111"/>
<circle cx="280.4" cy="355.8" r="2.55" fill="#111"/>
<circle cx="295.6" cy="355.8" r="2.55" fill="#111"/>
<circle cx="292.1" cy="359.2" r="2.55" fill="#111"/>
<circle cx="269.4" cy="359.5" r="2.55" fill="#111"/>
<circle cx="283.9" cy="360.9" r="2.55" fill="#111"/>
<circle cx="276.3" cy="363.1" r="2.55" fill="#111"/>
<circle cx="296.2" cy="366.2" r="2.55" fill="#111"/>
<circle cx="266" cy="366.4" r="2.55" fill="#111"/>
<circle cx="279.7" cy="371" r="2.55" fill="#111"/>
<circle cx="285.2" cy="368.9" r="2.55" fill="#111"/>
<circle cx="281.1" cy="368.2" r="2.55" fill="#111"/>
<circle cx="326.2" cy="310.5" r="2.55" fill="#111"/>
<circle cx="363.2" cy="318.3" r="2.55" fill="#111"/>
<circle cx="336.9" cy="327.1" r="2.55" fill="#111"/>
<circle cx="318.8" cy="327.7" r="2.55" fill="#111"/>
<circle cx="297.9" cy="345.8" r="2.55" fill="#111"/>
<circle cx="362.1" cy="270.9" r="2.55" fill="#111"/>
<circle cx="466.4" cy="250.2" r="2.55" fill="#111"/>
<circle cx="490.9" cy="249.2" r="2.55" fill="#111"/>
<circle cx="464" cy="286.1" r="2.55" fill="#111"/>
<circle cx="486.7" cy="296.6" r="2.55" fill="#111"/>
<circle cx="450.9" cy="300.9" r="2.55" fill="#111"/>
<circle cx="467.7" cy="298.4" r="2.55" fill="#111"/>
<circle cx="471.5" cy="300.6" r="2.55" fill="#111"/>
<circle cx="458.8" cy="309.4" r="2.55" fill="#111"/>
<circle cx="464.3" cy="307.7" r="2.55" fill="#111"/>
<circle cx="437.2" cy="311.5" r="2.55" fill="#111"/>
<circle cx="510.2" cy="275.4" r="2.55" fill="#111"/>
<circle cx="506.7" cy="293.4" r="2.55" fill="#111"/>
<circle cx="471.7" cy="300.2" r="2.55" fill="#111"/>
<circle cx="515.5" cy="303.3" r="2.55" fill="#111"/>
<circle cx="476" cy="313.8" r="2.55" fill="#111"/>
<circle cx="472.8" cy="316" r="2.55" fill="#111"/>
<circle cx="486" cy="324" r="2.55" fill="#111"/>
<circle cx="472.8" cy="328.4" r="2.55" fill="#111"/>
<circle cx="504.7" cy="325.4" r="2.55" fill="#111"/>
<circle cx="515" cy="319.9" r="2.55" fill="#111"/>
<circle cx="474.4" cy="335.9" r="2.55" fill="#111"/>
<circle cx="477.7" cy="334.8" r="2.55" fill="#111"/>
<circle cx="489" cy="336.7" r="2.55" fill="#111"/>
<circle cx="473.9" cy="347.4" r="2.55" fill="#111"/>
<circle cx="473.3" cy="350.2" r="2.55" fill="#111"/>
<circle cx="463.6" cy="313.8" r="2.55" fill="#111"/>
<circle cx="443.6" cy="314.5" r="2.55" fill="#111"/>
<circle cx="448.5" cy="313.8" r="2.55" fill="#111"/>
<circle cx="453.3" cy="313.8" r="2.55" fill="#111"/>
<circle cx="445.7" cy="318.6" r="2.55" fill="#111"/>
<circle cx="451.2" cy="319.3" r="2.55" fill="#111"/>
<circle cx="458.1" cy="317.9" r="2.55" fill="#111"/>
<circle cx="458.1" cy="320.5" r="2.55" fill="#111"/>
<circle cx="447.1" cy="316.5" r="2.55" fill="#111"/>
<circle cx="485.6" cy="324.1" r="2.55" fill="#111"/>
<circle cx="448.5" cy="325.5" r="2.55" fill="#111"/>
<circle cx="443.6" cy="327.5" r="2.55" fill="#111"/>
<circle cx="437.4" cy="328.7" r="2.55" fill="#111"/>
<circle cx="443" cy="331.7" r="2.55" fill="#111"/>
<circle cx="440.9" cy="334.4" r="2.55" fill="#111"/>
<circle cx="445" cy="333.7" r="2.55" fill="#111"/>
<circle cx="454" cy="330.3" r="2.55" fill="#111"/>
<circle cx="458.1" cy="333.1" r="2.55" fill="#111"/>
<circle cx="463.6" cy="333.1" r="2.55" fill="#111"/>
<circle cx="467" cy="328.2" r="2.55" fill="#111"/>
<circle cx="436.7" cy="336.9" r="2.55" fill="#111"/>
<circle cx="442.3" cy="337.2" r="2.55" fill="#111"/>
<circle cx="448.5" cy="336.5" r="2.55" fill="#111"/>
<circle cx="451.2" cy="339.3" r="2.55" fill="#111"/>
<circle cx="449.1" cy="342" r="2.55" fill="#111"/>
<circle cx="459.5" cy="336.5" r="2.55" fill="#111"/>
<circle cx="462.2" cy="337.2" r="2.55" fill="#111"/>
<circle cx="466.4" cy="339.3" r="2.55" fill="#111"/>
<circle cx="429.9" cy="342.7" r="2.55" fill="#111"/>
<circle cx="435.4" cy="344.8" r="2.55" fill="#111"/>
<circle cx="438.8" cy="344.1" r="2.55" fill="#111"/>
<circle cx="444.3" cy="344.1" r="2.55" fill="#111"/>
<circle cx="452.6" cy="342.7" r="2.55" fill="#111"/>
<circle cx="455.3" cy="345.5" r="2.55" fill="#111"/>
<circle cx="456.7" cy="347.5" r="2.55" fill="#111"/>
<circle cx="465" cy="344.8" r="2.55" fill="#111"/>
<circle cx="441.6" cy="348.9" r="2.55" fill="#111"/>
<circle cx="436" cy="351" r="2.55" fill="#111"/>
<circle cx="437.4" cy="353.7" r="2.55" fill="#111"/>
<circle cx="458.8" cy="352.3" r="2.55" fill="#111"/>
<circle cx="428.5" cy="353" r="2.55" fill="#111"/>
<circle cx="427.1" cy="355.8" r="2.55" fill="#111"/>
<circle cx="431.9" cy="357.2" r="2.55" fill="#111"/>
<circle cx="434.7" cy="359.2" r="2.55" fill="#111"/>
<circle cx="445.7" cy="353" r="2.55" fill="#111"/>
<circle cx="444.3" cy="356.5" r="2.55" fill="#111"/>
<circle cx="445.7" cy="357.9" r="2.55" fill="#111"/>
<circle cx="453.3" cy="355.1" r="2.55" fill="#111"/>
<circle cx="455.3" cy="354.4" r="2.55" fill="#111"/>
<circle cx="442.3" cy="360.6" r="2.55" fill="#111"/>
<circle cx="447.1" cy="363.4" r="2.55" fill="#111"/>
<circle cx="436.6" cy="336.9" r="2.55" fill="#111"/>
<circle cx="440.7" cy="349.3" r="2.55" fill="#111"/>
<circle cx="438" cy="352.7" r="2.55" fill="#111"/>
<circle cx="433.8" cy="356.2" r="2.55" fill="#111"/>
<circle cx="445.5" cy="354.1" r="2.55" fill="#111"/>
<circle cx="446.2" cy="357.5" r="2.55" fill="#111"/>
<circle cx="443.5" cy="359.6" r="2.55" fill="#111"/>
<circle cx="451.7" cy="355.5" r="2.55" fill="#111"/>
<circle cx="459.3" cy="352" r="2.55" fill="#111"/>
<circle cx="455.9" cy="347.2" r="2.55" fill="#111"/>
<circle cx="464.8" cy="344.5" r="2.55" fill="#111"/>
<circle cx="473.8" cy="347.2" r="2.55" fill="#111"/>
<circle cx="466.2" cy="339.6" r="2.55" fill="#111"/>
<circle cx="473.8" cy="335.5" r="2.55" fill="#111"/>
<circle cx="716.2" cy="249" r="2.55" fill="#111"/>
<circle cx="698.3" cy="294.3" r="2.55" fill="#111"/>
<circle cx="687.1" cy="302.4" r="2.55" fill="#111"/>
<circle cx="669.9" cy="304.5" r="2.55" fill="#111"/>
<circle cx="670.6" cy="306.2" r="2.55" fill="#111"/>
<circle cx="662.2" cy="308.3" r="2.55" fill="#111"/>
<circle cx="670.2" cy="311.1" r="2.55" fill="#111"/>
<circle cx="668.6" cy="313.1" r="2.55" fill="#111"/>
<circle cx="668" cy="314.2" r="2.55" fill="#111"/>
<circle cx="652" cy="315.3" r="2.55" fill="#111"/>
<circle cx="676.8" cy="315.5" r="2.55" fill="#111"/>
<circle cx="682.9" cy="315.5" r="2.55" fill="#111"/>
<circle cx="679.6" cy="320.2" r="2.55" fill="#111"/>
<circle cx="665.3" cy="321.9" r="2.55" fill="#111"/>
<circle cx="668.6" cy="321.7" r="2.55" fill="#111"/>
<circle cx="655.6" cy="326.5" r="2.55" fill="#111"/>
<circle cx="661.4" cy="326.1" r="2.55" fill="#111"/>
<circle cx="643" cy="331.8" r="2.55" fill="#111"/>
<circle cx="648.7" cy="330.7" r="2.55" fill="#111"/>
<circle cx="649.8" cy="332.7" r="2.55" fill="#111"/>
<circle cx="653.7" cy="333.4" r="2.55" fill="#111"/>
<circle cx="657" cy="332.3" r="2.55" fill="#111"/>
<circle cx="660.3" cy="332.7" r="2.55" fill="#111"/>
<circle cx="665.8" cy="334" r="2.55" fill="#111"/>
<circle cx="680.9" cy="331.8" r="2.55" fill="#111"/>
<circle cx="683.4" cy="336.2" r="2.55" fill="#111"/>
<circle cx="671.9" cy="336.7" r="2.55" fill="#111"/>
<circle cx="637.7" cy="336.7" r="2.55" fill="#111"/>
<circle cx="655.4" cy="326.7" r="2.55" fill="#111"/>
<circle cx="660.9" cy="326.7" r="2.55" fill="#111"/>
<circle cx="665.9" cy="334.9" r="2.55" fill="#111"/>
<circle cx="672" cy="338" r="2.55" fill="#111"/>
<circle cx="680.8" cy="332.5" r="2.55" fill="#111"/>
<circle cx="683" cy="337.1" r="2.55" fill="#111"/>
<circle cx="655.4" cy="338.8" r="2.55" fill="#111"/>
<circle cx="659.8" cy="340.4" r="2.55" fill="#111"/>
<circle cx="662.6" cy="346.5" r="2.55" fill="#111"/>
<circle cx="669.8" cy="347" r="2.55" fill="#111"/>
<circle cx="669.2" cy="350.9" r="2.55" fill="#111"/>
<circle cx="683" cy="350.7" r="2.55" fill="#111"/>
<circle cx="659.3" cy="353.1" r="2.55" fill="#111"/>
<circle cx="643.3" cy="347" r="2.55" fill="#111"/>
<circle cx="648.3" cy="346.5" r="2.55" fill="#111"/>
<circle cx="648.8" cy="347.6" r="2.55" fill="#111"/>
<circle cx="648.8" cy="353.1" r="2.55" fill="#111"/>
<circle cx="650.5" cy="354.8" r="2.55" fill="#111"/>
<circle cx="647.2" cy="359.7" r="2.55" fill="#111"/>
<circle cx="641.1" cy="358.1" r="2.55" fill="#111"/>
<circle cx="641.1" cy="360.8" r="2.55" fill="#111"/>
<circle cx="647.7" cy="366.9" r="2.55" fill="#111"/>
<circle cx="649.9" cy="365.2" r="2.55" fill="#111"/>
<circle cx="641.7" cy="367.4" r="2.55" fill="#111"/>
<circle cx="642.2" cy="370.2" r="2.55" fill="#111"/>
<circle cx="643.3" cy="373.5" r="2.55" fill="#111"/>
<circle cx="645" cy="375.1" r="2.55" fill="#111"/>
<circle cx="642.9" cy="331.6" r="2.55" fill="#111"/>
<circle cx="648.4" cy="330.5" r="2.55" fill="#111"/>
<circle cx="653.3" cy="333.8" r="2.55" fill="#111"/>
<circle cx="637.9" cy="337.6" r="2.55" fill="#111"/>
<circle cx="635.7" cy="343.1" r="2.55" fill="#111"/>
<circle cx="639" cy="343.7" r="2.55" fill="#111"/>
<circle cx="640.1" cy="346.4" r="2.55" fill="#111"/>
<circle cx="630.7" cy="346.4" r="2.55" fill="#111"/>
<circle cx="633.5" cy="349.8" r="2.55" fill="#111"/>
<circle cx="626.9" cy="350.9" r="2.55" fill="#111"/>
<circle cx="624.7" cy="353.6" r="2.55" fill="#111"/>
<circle cx="629.1" cy="353.1" r="2.55" fill="#111"/>
<circle cx="617.5" cy="356.4" r="2.55" fill="#111"/>
<circle cx="621.4" cy="357.5" r="2.55" fill="#111"/>
<circle cx="624.7" cy="357.5" r="2.55" fill="#111"/>
<circle cx="628.5" cy="356.4" r="2.55" fill="#111"/>
<circle cx="636.8" cy="356.9" r="2.55" fill="#111"/>
<circle cx="639" cy="358.6" r="2.55" fill="#111"/>
<circle cx="640.6" cy="360.8" r="2.55" fill="#111"/>
<circle cx="612.5" cy="365.2" r="2.55" fill="#111"/>
<circle cx="614.8" cy="366.3" r="2.55" fill="#111"/>
<circle cx="621.4" cy="365.2" r="2.55" fill="#111"/>
<circle cx="624.1" cy="368.5" r="2.55" fill="#111"/>
<circle cx="628" cy="369" r="2.55" fill="#111"/>
<circle cx="629.6" cy="371.8" r="2.55" fill="#111"/>
<circle cx="637.9" cy="367.4" r="2.55" fill="#111"/>
<circle cx="607" cy="371.2" r="2.55" fill="#111"/>
<circle cx="610.3" cy="372.3" r="2.55" fill="#111"/>
<circle cx="613.6" cy="372.9" r="2.55" fill="#111"/>
<circle cx="602.1" cy="374.5" r="2.55" fill="#111"/>
<circle cx="623.6" cy="374" r="2.55" fill="#111"/>
<circle cx="626.9" cy="375.1" r="2.55" fill="#111"/>
<circle cx="597.7" cy="382" r="2.55" fill="#111"/>
<circle cx="599.4" cy="379.8" r="2.55" fill="#111"/>
<circle cx="601" cy="377.5" r="2.55" fill="#111"/>
<circle cx="603.2" cy="374.8" r="2.55" fill="#111"/>
<circle cx="609.3" cy="373.1" r="2.55" fill="#111"/>
<circle cx="611.5" cy="375.3" r="2.55" fill="#111"/>
<circle cx="612.6" cy="364.9" r="2.55" fill="#111"/>
<circle cx="615.9" cy="367.1" r="2.55" fill="#111"/>
<circle cx="618.1" cy="356.6" r="2.55" fill="#111"/>
<circle cx="622" cy="365.4" r="2.55" fill="#111"/>
<circle cx="625.3" cy="367.6" r="2.55" fill="#111"/>
<circle cx="628" cy="370.4" r="2.55" fill="#111"/>
<circle cx="629.1" cy="373.1" r="2.55" fill="#111"/>
<circle cx="628" cy="376.4" r="2.55" fill="#111"/>
<circle cx="620.9" cy="376.4" r="2.55" fill="#111"/>
<circle cx="623.6" cy="374.8" r="2.55" fill="#111"/>
<circle cx="625.8" cy="380.9" r="2.55" fill="#111"/>
<circle cx="631.9" cy="379.2" r="2.55" fill="#111"/>
<circle cx="636.3" cy="355.5" r="2.55" fill="#111"/>
<circle cx="647.3" cy="359.4" r="2.55" fill="#111"/>
<circle cx="649" cy="356.1" r="2.55" fill="#111"/>
<circle cx="650.1" cy="353.9" r="2.55" fill="#111"/>
<circle cx="658.9" cy="353.3" r="2.55" fill="#111"/>
<circle cx="627.5" cy="354.4" r="2.55" fill="#111"/>
<circle cx="630.8" cy="353.3" r="2.55" fill="#111"/>
<circle cx="140.9" cy="249.2" r="2.55" fill="#7f7f7f"/>
<circle cx="90.6" cy="272.9" r="2.55" fill="#7f7f7f"/>
<circle cx="103" cy="288.7" r="2.55" fill="#7f7f7f"/>
<circle cx="112.7" cy="293.5" r="2.55" fill="#7f7f7f"/>
<circle cx="114.7" cy="293.5" r="2.55" fill="#7f7f7f"/>
<circle cx="94.1" cy="310.7" r="2.55" fill="#7f7f7f"/>
<circle cx="102.3" cy="310.7" r="2.55" fill="#7f7f7f"/>
<circle cx="89.3" cy="314.5" r="2.55" fill="#7f7f7f"/>
<circle cx="100.3" cy="317.3" r="2.55" fill="#7f7f7f"/>
<circle cx="120.2" cy="312.7" r="2.55" fill="#7f7f7f"/>
<circle cx="133" cy="318.2" r="2.55" fill="#7f7f7f"/>
<circle cx="97.5" cy="322.8" r="2.55" fill="#7f7f7f"/>
<circle cx="120.2" cy="323.5" r="2.55" fill="#7f7f7f"/>
<circle cx="111.3" cy="323.7" r="2.55" fill="#7f7f7f"/>
<circle cx="113.4" cy="326.5" r="2.55" fill="#7f7f7f"/>
<circle cx="78.9" cy="328.6" r="2.55" fill="#7f7f7f"/>
<circle cx="118.2" cy="330.6" r="2.55" fill="#7f7f7f"/>
<circle cx="149.5" cy="326.3" r="2.55" fill="#7f7f7f"/>
<circle cx="105.1" cy="333.4" r="2.55" fill="#7f7f7f"/>
<circle cx="93.4" cy="336.8" r="2.55" fill="#7f7f7f"/>
<circle cx="122.3" cy="338.9" r="2.55" fill="#7f7f7f"/>
<circle cx="127.1" cy="340.3" r="2.55" fill="#7f7f7f"/>
<circle cx="134" cy="338.9" r="2.55" fill="#7f7f7f"/>
<circle cx="85.1" cy="344.4" r="2.55" fill="#7f7f7f"/>
<circle cx="100.3" cy="343.7" r="2.55" fill="#7f7f7f"/>
<circle cx="122.3" cy="347.2" r="2.55" fill="#7f7f7f"/>
<circle cx="104.4" cy="355.4" r="2.55" fill="#7f7f7f"/>
<circle cx="137.6" cy="361.4" r="2.55" fill="#7f7f7f"/>
<circle cx="186.7" cy="292" r="2.55" fill="#7f7f7f"/>
<circle cx="183" cy="305.4" r="2.55" fill="#7f7f7f"/>
<circle cx="128.8" cy="363.3" r="2.55" fill="#7f7f7f"/>
<circle cx="169.4" cy="357" r="2.55" fill="#7f7f7f"/>
<circle cx="284.8" cy="249.3" r="2.55" fill="#7f7f7f"/>
<circle cx="244.6" cy="272.9" r="2.55" fill="#7f7f7f"/>
<circle cx="245.3" cy="288.7" r="2.55" fill="#7f7f7f"/>
<circle cx="252.9" cy="293.5" r="2.55" fill="#7f7f7f"/>
<circle cx="253.6" cy="294.5" r="2.55" fill="#7f7f7f"/>
<circle cx="293.6" cy="291.8" r="2.55" fill="#7f7f7f"/>
<circle cx="279.7" cy="305.5" r="2.55" fill="#7f7f7f"/>
<circle cx="244.6" cy="311" r="2.55" fill="#7f7f7f"/>
<circle cx="241.2" cy="314.5" r="2.55" fill="#7f7f7f"/>
<circle cx="256.3" cy="313.4" r="2.55" fill="#7f7f7f"/>
<circle cx="249.1" cy="317.2" r="2.55" fill="#7f7f7f"/>
<circle cx="262.1" cy="317.9" r="2.55" fill="#7f7f7f"/>
<circle cx="243.9" cy="323.1" r="2.55" fill="#7f7f7f"/>
<circle cx="247.3" cy="324.1" r="2.55" fill="#7f7f7f"/>
<circle cx="252.2" cy="324.1" r="2.55" fill="#7f7f7f"/>
<circle cx="257.7" cy="326.9" r="2.55" fill="#7f7f7f"/>
<circle cx="262.5" cy="326.9" r="2.55" fill="#7f7f7f"/>
<circle cx="237" cy="328.2" r="2.55" fill="#7f7f7f"/>
<circle cx="255.6" cy="331" r="2.55" fill="#7f7f7f"/>
<circle cx="246.7" cy="333.1" r="2.55" fill="#7f7f7f"/>
<circle cx="239.1" cy="336.5" r="2.55" fill="#7f7f7f"/>
<circle cx="250.8" cy="340.6" r="2.55" fill="#7f7f7f"/>
<circle cx="261.1" cy="339.3" r="2.55" fill="#7f7f7f"/>
<circle cx="266.6" cy="339.3" r="2.55" fill="#7f7f7f"/>
<circle cx="239.8" cy="344.4" r="2.55" fill="#7f7f7f"/>
<circle cx="245.3" cy="343.8" r="2.55" fill="#7f7f7f"/>
<circle cx="252.2" cy="347.5" r="2.55" fill="#7f7f7f"/>
<circle cx="248.3" cy="355.6" r="2.55" fill="#7f7f7f"/>
<circle cx="268.7" cy="357" r="2.55" fill="#7f7f7f"/>
<circle cx="252.9" cy="363.4" r="2.55" fill="#7f7f7f"/>
<circle cx="256.3" cy="361.3" r="2.55" fill="#7f7f7f"/>
<circle cx="243.9" cy="310.5" r="2.55" fill="#7f7f7f"/>
<circle cx="493.9" cy="326.9" r="2.55" fill="#7f7f7f"/>
<circle cx="539.6" cy="318.8" r="2.55" fill="#7f7f7f"/>
<circle cx="536.1" cy="332.8" r="2.55" fill="#7f7f7f"/>
<circle cx="522.3" cy="343.9" r="2.55" fill="#7f7f7f"/>
<circle cx="487.1" cy="345.8" r="2.55" fill="#7f7f7f"/>
<circle cx="486" cy="350.2" r="2.55" fill="#7f7f7f"/>
<circle cx="475.5" cy="350.2" r="2.55" fill="#7f7f7f"/>
<circle cx="502.8" cy="349.6" r="2.55" fill="#7f7f7f"/>
<circle cx="490.9" cy="355.9" r="2.55" fill="#7f7f7f"/>
<circle cx="481.6" cy="359.2" r="2.55" fill="#7f7f7f"/>
<circle cx="473.3" cy="356.2" r="2.55" fill="#7f7f7f"/>
<circle cx="474.4" cy="359" r="2.55" fill="#7f7f7f"/>
<circle cx="432.5" cy="374.8" r="2.55" fill="#7f7f7f"/>
<circle cx="438.7" cy="372.7" r="2.55" fill="#7f7f7f"/>
<circle cx="444.2" cy="367.9" r="2.55" fill="#7f7f7f"/>
<circle cx="446.9" cy="367.2" r="2.55" fill="#7f7f7f"/>
<circle cx="442.8" cy="369.9" r="2.55" fill="#7f7f7f"/>
<circle cx="446.9" cy="373.4" r="2.55" fill="#7f7f7f"/>
<circle cx="451.1" cy="368.6" r="2.55" fill="#7f7f7f"/>
<circle cx="453.8" cy="366.5" r="2.55" fill="#7f7f7f"/>
<circle cx="456.6" cy="367.2" r="2.55" fill="#7f7f7f"/>
<circle cx="459.3" cy="365.1" r="2.55" fill="#7f7f7f"/>
<circle cx="462.1" cy="364.4" r="2.55" fill="#7f7f7f"/>
<circle cx="453.1" cy="363.7" r="2.55" fill="#7f7f7f"/>
<circle cx="458" cy="363.7" r="2.55" fill="#7f7f7f"/>
<circle cx="464.8" cy="365.1" r="2.55" fill="#7f7f7f"/>
<circle cx="465.5" cy="359.6" r="2.55" fill="#7f7f7f"/>
<circle cx="469.7" cy="358.2" r="2.55" fill="#7f7f7f"/>
<circle cx="472.4" cy="356.9" r="2.55" fill="#7f7f7f"/>
<circle cx="466.9" cy="354.1" r="2.55" fill="#7f7f7f"/>
<circle cx="475.2" cy="359.6" r="2.55" fill="#7f7f7f"/>
<circle cx="475.9" cy="350.7" r="2.55" fill="#7f7f7f"/>
<circle cx="480.7" cy="361.7" r="2.55" fill="#7f7f7f"/>
<circle cx="482" cy="358.9" r="2.55" fill="#7f7f7f"/>
<circle cx="487.6" cy="345.8" r="2.55" fill="#7f7f7f"/>
</svg></body></html>
